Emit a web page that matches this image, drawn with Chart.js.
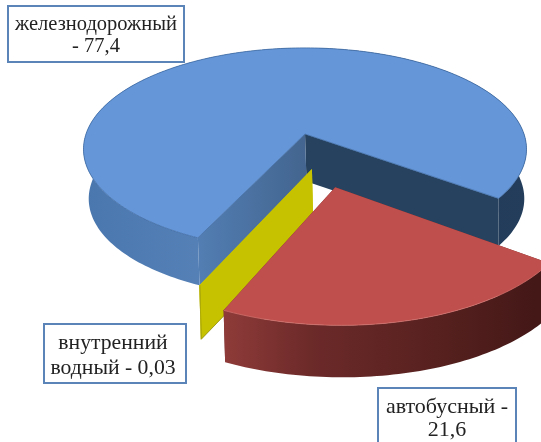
<!DOCTYPE html>
<html>
<head>
<meta charset="utf-8">
<style>
    html, body { margin: 0; padding: 0; background: #fff; overflow: hidden; }
    canvas { display: block; }
</style>
<script src="https://cdn.jsdelivr.net/npm/chart.js@4"></script>
</head>
<body>
<canvas id="transportChart" width="541" height="442"></canvas>
<script>
var categories = ['железнодорожный', 'автобусный', 'внутренний водный'];
var shares = [77.4, 21.6, 0.03];
var labelLines = [
    ['железнодорожный', '- 77,4'],
    ['автобусный -', '21,6'],
    ['внутренний', 'водный - 0,03']
];

var topColors = ['#6496d8', '#bf4f4c', '#c6c200'];

// how the flat pie is laid on the page: a tilted plane seen with some perspective
var view = { cx: 305, cy: 134, rx: 219, ry: 99, persp: 0.15 };
var sliceDepths = [47.5, 52, 54];

// wall colours per slice, left to right on the page
var rimColors = [
    [[0, '#4a77ae'], [0.3, '#5682b8'], [0.6, '#203a59'], [1, '#233d5b']],
    [[0.31, '#8e3b39'], [0.5, '#6c2a29'], [0.78, '#57211f'], [1, '#441817']],
    [[0, '#c6c200'], [1, '#c6c200']]
];
var startWallColors = ['#527eb3', '#702c2b', '#c6c200'];
var startWallEnd = ['#43658f', '#702c2b', '#c6c200'];
var endWallColors = ['#26425f', '#702c2b', '#c6c200'];
var edgeColors = ['#3f6ba3', '#d0706c', '#8f8c10'];

// the yellow slice sits off its own radius in the picture
var nudges = [[0, 0], [0, 0], [0.03, 0.336]];

var boxes = [
    { left: 8, top: 6, right: 184, bottom: 62, size: 20.5, center: 96, lines: [25, 47] },
    { left: 378, top: 388, right: 516, bottom: 460, size: 22, center: 447, lines: [407, 430] },
    { left: 44, top: 324, right: 186, bottom: 383, size: 21.7, center: 113, lines: [343, 368] }
];

function project(u, v, depth) {
    var w = 1 - view.persp * v;
    // the underside pulls in a little at the far sides only
    var sx = depth ? 0.98 + 0.02 * Math.min(1, Math.max(v, 0)) : 1;
    return {
        x: view.cx + view.rx * sx * u / w + (depth ? 1.5 : 0),
        y: view.cy + view.ry * v / w + depth
    };
}

function sliceGeometry(el, i) {
    var d = el.options.offset / el.outerRadius;
    var mid = (el.startAngle + el.endAngle) / 2;
    return {
        a0: el.startAngle,
        a1: el.endAngle,
        ou: d * Math.cos(mid) + nudges[i][0],
        ov: d * Math.sin(mid) + nudges[i][1]
    };
}

function arcPoints(g, depth) {
    var pts = [];
    var n = Math.max(2, Math.ceil((g.a1 - g.a0) / 0.02));
    for (var k = 0; k <= n; k++) {
        var a = g.a0 + (g.a1 - g.a0) * k / n;
        pts.push(project(g.ou + Math.cos(a), g.ov + Math.sin(a), depth));
    }
    return pts;
}

function tracePath(ctx, pts) {
    ctx.beginPath();
    pts.forEach(function (p, idx) {
        if (idx === 0) ctx.moveTo(p.x, p.y);
        else ctx.lineTo(p.x, p.y);
    });
}

function fillPoly(ctx, pts, fill) {
    tracePath(ctx, pts);
    ctx.closePath();
    ctx.fillStyle = fill;
    ctx.fill();
}

function strokePath(ctx, pts, color) {
    tracePath(ctx, pts);
    ctx.strokeStyle = color;
    ctx.lineWidth = 0.8;
    ctx.stroke();
}

function radialWall(ctx, g, angle, depth, fill) {
    var tu = g.ou + Math.cos(angle);
    var tv = g.ov + Math.sin(angle);
    var pts = [
        project(g.ou, g.ov, 0),
        project(tu, tv, 0),
        project(tu, tv, depth),
        project(g.ou, g.ov, depth)
    ];
    fillPoly(ctx, pts, fill);
    return pts;
}

var pie3d = {
    id: 'pie3d',
    beforeDatasetsDraw: function (chart) {
        var ctx = chart.ctx;
        var arcs = chart.getDatasetMeta(0).data;
        // back to front: blue, yellow, red
        [0, 2, 1].forEach(function (i) {
            var g = sliceGeometry(arcs[i], i);
            var depth = sliceDepths[i];
            var tip0 = project(g.ou + Math.cos(g.a0), g.ov + Math.sin(g.a0), 0);
            var apex = project(g.ou, g.ov, 0);
            ctx.save();

            var startFill = ctx.createLinearGradient(tip0.x, 0, apex.x, 0);
            startFill.addColorStop(0, startWallColors[i]);
            startFill.addColorStop(1, startWallEnd[i]);
            radialWall(ctx, g, g.a1, depth, endWallColors[i]);
            var wallPts = radialWall(ctx, g, g.a0, depth, startFill);
            if (i === 2) {
                strokePath(ctx, wallPts.slice(1), edgeColors[i]);
            }

            var upper = arcPoints(g, 0);
            var lower = arcPoints(g, depth).reverse();
            var rim = ctx.createLinearGradient(86, 0, 534, 0);
            rimColors[i].forEach(function (s) { rim.addColorStop(s[0], s[1]); });
            fillPoly(ctx, upper.concat(lower), rim);

            if (i === 0) {
                fillPoly(ctx, [apex].concat(upper), topColors[i]);
                strokePath(ctx, [apex].concat(upper, [apex]), edgeColors[i]);
            } else if (i === 1) {
                fillPoly(ctx, [apex].concat(upper), topColors[i]);
                strokePath(ctx, upper, edgeColors[i]);
            }
            ctx.restore();
        });
        return false;
    },
    afterDraw: function (chart) {
        var ctx = chart.ctx;
        ctx.save();
        boxes.forEach(function (b, i) {
            ctx.fillStyle = '#fff';
            ctx.fillRect(b.left, b.top, b.right - b.left, b.bottom - b.top);
            ctx.strokeStyle = '#5b84b8';
            ctx.lineWidth = 2;
            ctx.strokeRect(b.left, b.top, b.right - b.left, b.bottom - b.top);
            ctx.fillStyle = '#222';
            ctx.font = b.size + 'px "Liberation Serif"';
            ctx.textAlign = 'center';
            ctx.textBaseline = 'middle';
            labelLines[i].forEach(function (line, k) {
                ctx.fillText(line, b.center, b.lines[k]);
            });
        });
        ctx.restore();
    }
};

new Chart(document.getElementById('transportChart'), {
    type: 'pie',
    data: {
        labels: categories,
        datasets: [{
            data: shares,
            backgroundColor: topColors,
            offset: [0, 90, 0]
        }]
    },
    options: {
        responsive: false,
        animation: false,
        devicePixelRatio: 1,
        rotation: 205,
        plugins: {
            legend: { display: false },
            tooltip: { enabled: false }
        }
    },
    plugins: [pie3d]
});
</script>
</body>
</html>
